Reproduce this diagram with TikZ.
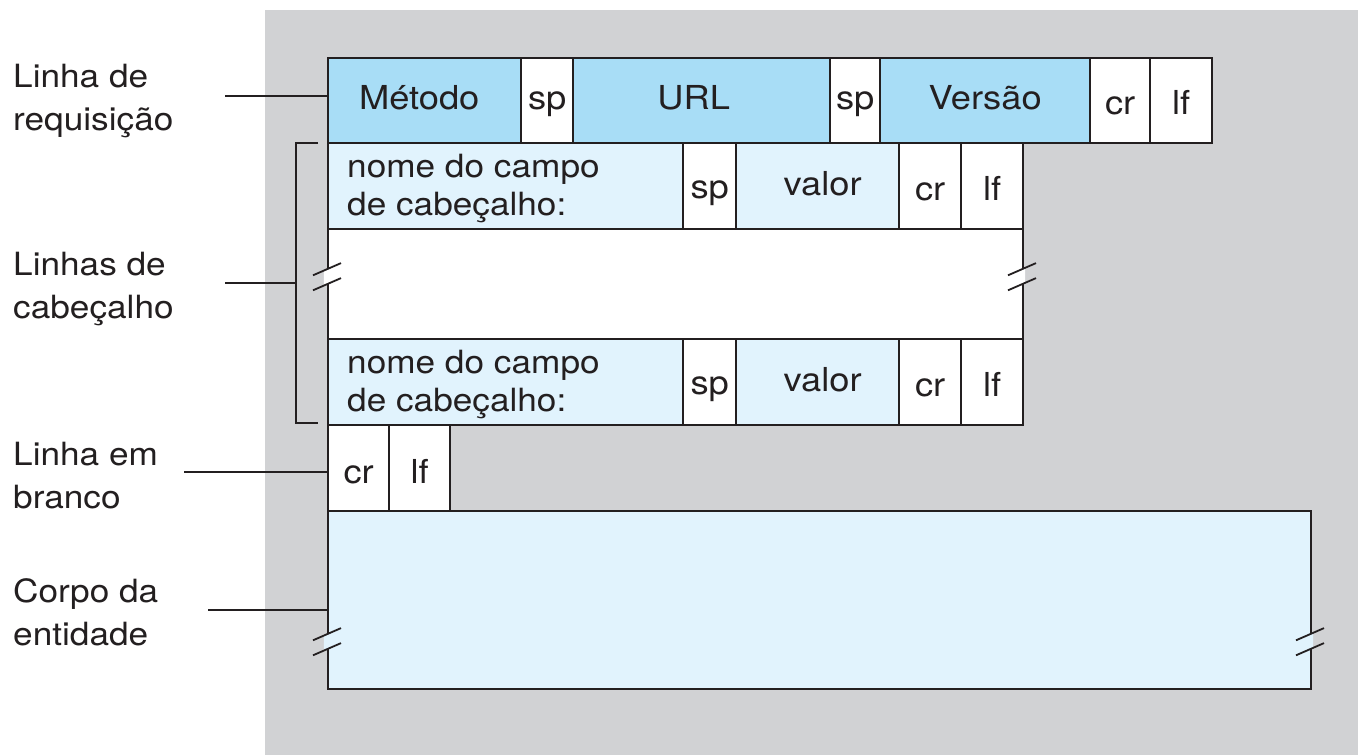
\documentclass[tikz,border=0pt]{standalone}
\usepackage{fontspec}
\setmainfont[FakeStretch=1.1]{TeX Gyre Heros}
\definecolor{bggray}{HTML}{D1D2D4}
\definecolor{darkb}{HTML}{A8DDF6}
\definecolor{lightb}{HTML}{E1F3FD}
\definecolor{ink}{HTML}{231F20}
\newcommand\brkmark[3]{%
  \fill[#3] (#1,#2) ++(-3.2,-5.9) -- ++(6.4,-2.8) -- ++(0,15) -- ++(-6.4,2.8) -- cycle;
  \draw[brkline] (#1,#2) ++(-14,-1.2) -- ++(28,-12.2);
  \draw[brkline] (#1,#2) ++(-14,13.8) -- ++(28,-12.2);
}
\newcommand\twolines[2]{\begin{tabular}[t]{@{}l@{}}#1\\#2\end{tabular}}
\begin{document}
\begin{tikzpicture}[x=1pt,y=-1pt,
  cell/.style={draw=ink, line width=2.4pt, inner sep=0pt, anchor=north west,
    font=\fontsize{33}{40}\selectfont, text=ink},
  rowA/.style={cell, minimum height=85, text height=17pt, text depth=0pt},
  rowAc/.style={cell, minimum height=85, text height=27pt, text depth=0pt},
  rowB/.style={cell, minimum height=86},
  hname/.style={font=\fontsize{32}{38}\selectfont, inner sep=0pt, anchor=base west, text=ink},
  lab/.style={font=\fontsize{32}{43}\selectfont, inner sep=0pt, anchor=base west, text=ink},
  lead/.style={draw=ink, line width=1.3pt},
  brkline/.style={draw=ink, line width=1.8pt},
]
\useasboundingbox (0,0) rectangle (1358,755);
\fill[bggray] (265,10) rectangle (1358,755);

% request line
\node[rowA, fill=darkb, minimum width=193] (met) at (327,57) {Método\hspace*{11pt}};
\node[rowA, fill=white, minimum width=52] (sp1) at (520,57) {sp};
\node[rowA, fill=darkb, minimum width=257] (url) at (572,57) {URL\hspace*{16pt}};
\node[rowA, fill=white, minimum width=50] (sp2) at (829,57) {sp};
\node[rowA, fill=darkb, minimum width=210] (ver) at (879,57) {Versão};
\node[rowAc, fill=white, minimum width=60] (cr1) at (1089,57) {cr};
\node[rowAc, fill=white, minimum width=62] (lf1) at (1149,57) {lf};

% header line 1
\node[rowB, fill=lightb, minimum width=355] (hn1) at (327,142) {};
\node[hname] (hn1t) at (347,177) {\twolines{nome do campo}{de cabeçalho:}};
\node[rowB, fill=white, minimum width=53, text height=24pt, text depth=0pt] (hs1) at (682,142) {sp};
\node[rowB, fill=lightb, minimum width=163, text height=18pt, text depth=0pt] (hv1) at (735,142) {valor\hspace*{-10pt}};
\node[rowB, fill=white, minimum width=62, text height=28pt, text depth=0pt] (hc1) at (898,142) {cr};
\node[rowB, fill=white, minimum width=62, text height=28pt, text depth=0pt] (hl1) at (960,142) {lf};

% blank area
\node[cell, fill=white, minimum width=695, minimum height=110] (gap) at (327,228) {};

% header line 2
\node[rowB, fill=lightb, minimum width=355] (hn2) at (327,338) {};
\node[hname] (hn2t) at (347,373) {\twolines{nome do campo}{de cabeçalho:}};
\node[rowB, fill=white, minimum width=53, text height=24pt, text depth=0pt] (hs2) at (682,338) {sp};
\node[rowB, fill=lightb, minimum width=163, text height=18pt, text depth=0pt] (hv2) at (735,338) {valor\hspace*{-10pt}};
\node[rowB, fill=white, minimum width=62, text height=28pt, text depth=0pt] (hc2) at (898,338) {cr};
\node[rowB, fill=white, minimum width=62, text height=28pt, text depth=0pt] (hl2) at (960,338) {lf};

% blank line
\node[rowB, fill=white, minimum width=61, text height=30pt, text depth=0pt] (bc) at (327,424) {cr};
\node[rowB, fill=white, minimum width=61, text height=30pt, text depth=0pt] (bl) at (388,424) {lf};

% body
\node[cell, fill=lightb, minimum width=983, minimum height=178] (body) at (327,510) {};

% break marks
\brkmark{327}{276.5}{white}
\brkmark{1022}{276.5}{white}
\brkmark{327}{641.5}{lightb}
\brkmark{1310}{641.5}{lightb}

% labels
\node[lab] (l1) at (13,87) {\twolines{Linha de}{requisição}};
\node[lab] (l2) at (13,275) {\twolines{Linhas de}{cabeçalho}};
\node[lab] (l3) at (13,465) {\twolines{Linha em}{branco}};
\node[lab] (l4) at (13,602) {\twolines{Corpo da}{entidade}};

% leaders
\coordinate (c1) at (225,96);
\draw[lead] (c1) -- (c1 -| met.west);
\coordinate (c2) at (225,283);
\coordinate (bt) at (318,143);
\coordinate (bb) at (318,423);
\draw[lead] (bt) -- (296,143) -- (296,423) -- (bb);
\draw[lead] (c2) -- (296,283);
\coordinate (c3) at (184,472);
\draw[lead] (c3) -- (c3 -| bc.west);
\coordinate (c4) at (208,610);
\draw[lead] (c4) -- (c4 -| body.west);
\end{tikzpicture}
\end{document}
